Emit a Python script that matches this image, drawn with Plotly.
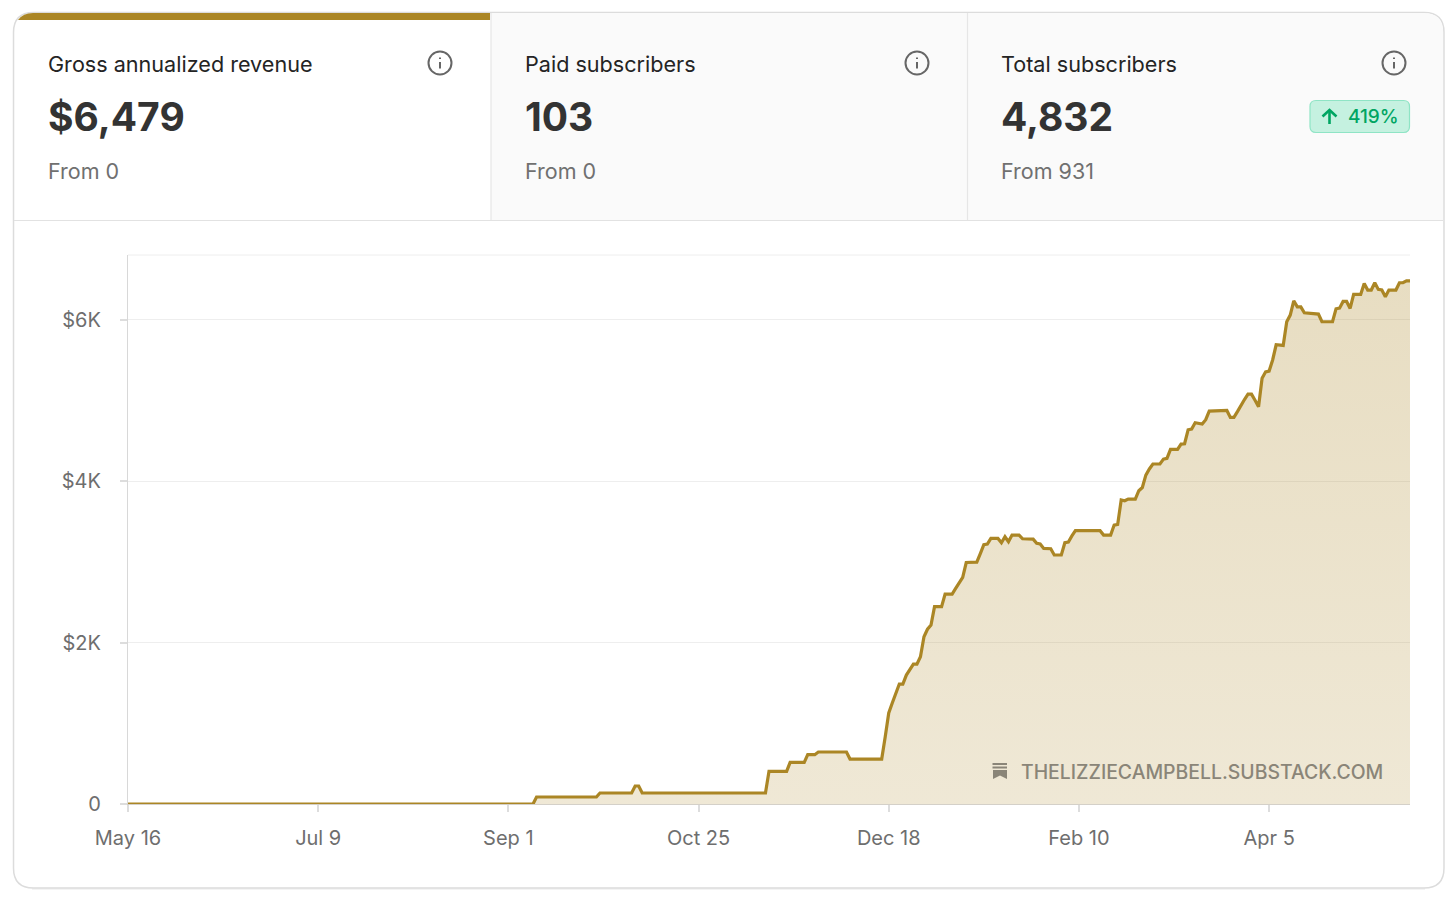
import pandas as pd
import plotly.graph_objects as go

# days since May 16
start_date = "2022-05-16"
end_day = 364
day_offsets = [
    0, 115, 116, 133, 134, 143, 144, 145, 146, 181, 182, 187, 188, 192, 193, 195, 196, 204, 205, 214,
    215, 216, 217, 218, 219, 220, 221, 223, 224, 225, 226, 227, 228, 229, 231, 232, 234, 235, 236, 237,
    238, 241, 242, 243, 244, 245, 247, 248, 249, 250, 251, 253, 254, 257, 258, 259, 260, 262, 263, 265,
    266, 267, 268, 269, 276, 277, 279, 280, 281, 282, 283, 284, 286, 287, 288, 289, 290, 291, 293, 294,
    295, 296, 298, 299, 300, 301, 302, 303, 305, 306, 307, 312, 313, 314, 315, 316, 317, 318, 319, 320,
    321, 322, 323, 324, 325, 326, 328, 329, 330, 331, 332, 333, 334, 338, 339, 342, 343, 344, 345, 346,
    347, 348, 350, 351, 352, 353, 354, 355, 356, 357, 358, 360, 361, 362, 363, 364,
]
revenue = [
    0, 0, 87, 87, 136, 136, 223, 223, 136, 136, 405, 405, 516, 516, 611, 611, 644, 644, 557, 557,
    833, 1127, 1250, 1370, 1486, 1486, 1597, 1732, 1732, 1824, 2072, 2165, 2217, 2444, 2444, 2600, 2600, 2670, 2740, 2807,
    2991, 2995, 3100, 3211, 3220, 3290, 3290, 3236, 3310, 3248, 3331, 3331, 3285, 3281, 3228, 3220, 3166, 3162, 3084, 3084,
    3236, 3245, 3320, 3385, 3385, 3331, 3331, 3455, 3463, 3765, 3756, 3777, 3777, 3880, 3920, 4074, 4150, 4211, 4211, 4272,
    4281, 4392, 4392, 4458, 4462, 4635, 4644, 4722, 4706, 4760, 4867, 4875, 4789, 4789, 4860, 4940, 5010, 5077, 5077, 5000,
    4920, 5272, 5353, 5362, 5500, 5688, 5680, 5973, 6056, 6233, 6158, 6158, 6084, 6068, 5973, 5973, 6134, 6142, 6225, 6225,
    6138, 6312, 6312, 6448, 6366, 6366, 6456, 6374, 6366, 6283, 6366, 6366, 6456, 6456, 6480, 6479,
]

x_tick_days = [0, 54, 108, 162, 216, 270, 324]
x_tick_labels = ["May 16", "Jul 9", "Sep 1", "Oct 25", "Dec 18", "Feb 10", "Apr 5"]
y_tick_values = [0, 2000, 4000, 6000]
y_tick_labels = ["0", "$2K", "$4K", "$6K"]
y_top = 6800

card_titles = ["Gross annualized revenue", "Paid subscribers", "Total subscribers"]
card_values = ["$6,479", "103", "4,832"]
card_froms = ["From 0", "From 0", "From 931"]
card_text_x = [47, 524, 1000]
card_icon_x = [440, 917, 1394]

FONT = "Inter"
GOLD = "#ab8625"
WIDTH, HEIGHT = 1456, 901
LEFT, RIGHT, TOP, BOTTOM = 128, 1410, 255, 804

base = pd.Timestamp(start_date)
dates = base + pd.to_timedelta(day_offsets, unit="D")
tick_dates = base + pd.to_timedelta(x_tick_days, unit="D")


# pixel position -> paper coordinates
def px(x):
    return (x - LEFT) / (RIGHT - LEFT)


def py(y):
    return (BOTTOM - y) / (BOTTOM - TOP)


def pt(x, y):
    return f"{px(x):.5f},{py(y):.5f}"


def round_rect(x0, y0, x1, y1, r):
    return (
        f"M{pt(x0 + r, y0)} L{pt(x1 - r, y0)} Q{pt(x1, y0)} {pt(x1, y0 + r)} "
        f"L{pt(x1, y1 - r)} Q{pt(x1, y1)} {pt(x1 - r, y1)} "
        f"L{pt(x0 + r, y1)} Q{pt(x0, y1)} {pt(x0, y1 - r)} "
        f"L{pt(x0, y0 + r)} Q{pt(x0, y0)} {pt(x0 + r, y0)} Z"
    )


def path_shape(path, fill=None, line=None, width=0, layer="below"):
    return dict(
        type="path", xref="paper", yref="paper", path=path, layer=layer,
        fillcolor=fill or "rgba(0,0,0,0)",
        line=dict(color=line or "rgba(0,0,0,0)", width=width),
    )


def seg(x0, y0, x1, y1, color, width, layer="below"):
    return dict(
        type="line", xref="paper", yref="paper", x0=px(x0), y0=py(y0), x1=px(x1), y1=py(y1),
        line=dict(color=color, width=width), layer=layer,
    )


def label(x, y, text, size, color, weight=400, anchor="left"):
    return dict(
        xref="paper", yref="paper", x=px(x), y=py(y), text=text, showarrow=False,
        xanchor=anchor, yanchor="middle", xshift=0, borderpad=0, align="left",
        font=dict(family=FONT, size=size, color=color, weight=weight),
    )


shapes = []
# soft shadow under the card, then the card
shapes.append(seg(32, 889, 1425, 889, "#f1f1f1", 1.5))
shapes.append(path_shape(round_rect(13.5, 12.5, 1444, 888, 20), fill="white", line="#dcdcdc", width=1.5))
# grey header panels
shapes.append(path_shape(
    f"M{pt(491, 13)} L{pt(1424, 13)} Q{pt(1443, 13)} {pt(1443, 32)} L{pt(1443, 220)} L{pt(491, 220)} Z",
    fill="#fafafa",
))
shapes.append(seg(14, 220.5, 1443, 220.5, "#e2e2e2", 1.2))
shapes.append(seg(491, 13, 491, 220, "#e6e6e6", 1.2))
shapes.append(seg(967.5, 13, 967.5, 220, "#e6e6e6", 1.2))
# gold bar on the selected card
shapes.append(path_shape(
    f"M{pt(33, 13)} L{pt(490, 13)} L{pt(490, 20)} L{pt(18, 20)} Q{pt(23, 13)} {pt(33, 13)} Z",
    fill=GOLD,
))
# info icons
for cx in card_icon_x:
    shapes.append(dict(
        type="circle", xref="paper", yref="paper", x0=px(cx - 11.5), x1=px(cx + 11.5),
        y0=py(63 + 11.5), y1=py(63 - 11.5), line=dict(color="#666666", width=2), layer="below",
    ))
    shapes.append(seg(cx, 62, cx, 68.5, "#666666", 2))
    shapes.append(seg(cx, 57.5, cx, 59, "#666666", 2))
# badge
shapes.append(path_shape(round_rect(1310, 100.5, 1409.5, 132.5, 6), fill="#c5f1e0", line="#8fe4c5", width=1.2))
shapes.append(seg(1329.5, 110, 1329.5, 124, "#00a562", 2.6))
shapes.append(path_shape(f"M{pt(1322.5, 116.5)} L{pt(1329.5, 110)} L{pt(1336.5, 116.5)}", line="#00a562", width=2.6))
# watermark icon
for wy in (764, 767.5):
    shapes.append(seg(992.5, wy, 1007, wy, "#8a8578", 2, layer="above"))
shapes.append(path_shape(
    f"M{pt(993, 770)} L{pt(1007, 770)} L{pt(1007, 779)} L{pt(1000, 775.5)} L{pt(993, 779)} Z",
    fill="#8a8578", layer="above",
))
# top frame line of the plot
shapes.append(seg(LEFT, TOP, RIGHT, TOP, "#eeeeee", 1))

annotations = []
for i in range(3):
    annotations.append(label(card_text_x[i], 64, card_titles[i], 21.6, "#242424", 400))
    annotations.append(label(card_text_x[i], 117, card_values[i], 39, "#333333", 700))
    annotations.append(label(card_text_x[i], 171, card_froms[i], 21.5, "#707070"))
annotations.append(label(1347, 117, "419%", 19, "#00a562", 500))
annotations.append(label(1020, 772, "THELIZZIECAMPBELL.SUBSTACK.COM", 19.4, "#8a8578", 500))

fig = go.Figure()
fig.add_trace(
    go.Scatter(
        x=dates,
        y=revenue,
        mode="lines",
        line=dict(color=GOLD, width=3.2),
        fill="tozeroy",
        fillgradient=dict(
            type="vertical",
            colorscale=[[0, "rgba(171,134,37,0.19)"], [1, "rgba(171,134,37,0.28)"]],
        ),
        showlegend=False,
        hoverinfo="skip",
    )
)

fig.update_layout(
    width=WIDTH,
    height=HEIGHT,
    margin=dict(l=LEFT, r=WIDTH - RIGHT, t=TOP, b=HEIGHT - BOTTOM, autoexpand=False),
    paper_bgcolor="white",
    plot_bgcolor="rgba(0,0,0,0)",
    font=dict(family=FONT, size=20, color="#6e6e6e"),
    shapes=shapes,
    annotations=annotations,
    xaxis=dict(
        range=[base, base + pd.Timedelta(days=end_day)],
        tickmode="array",
        tickvals=tick_dates,
        ticktext=x_tick_labels,
        ticks="outside",
        ticklen=7,
        tickwidth=1.5,
        tickcolor="#dddddd",
        showgrid=False,
        showline=True,
        linecolor="#d4d0c8",
        linewidth=1.2,
        zeroline=False,
        ticklabelstandoff=9,
        layer="below traces",
    ),
    yaxis=dict(
        range=[0, y_top],
        tickmode="array",
        tickvals=y_tick_values,
        ticktext=y_tick_labels,
        ticks="outside",
        ticklen=7,
        tickwidth=1.5,
        tickcolor="#dddddd",
        showgrid=True,
        gridcolor="#eeeeee",
        gridwidth=1,
        showline=True,
        linecolor="#d8d8d8",
        linewidth=1.2,
        zeroline=False,
        ticklabelstandoff=15,
        layer="below traces",
    ),
)

fig.write_html(
    "out.html",
    config=dict(displayModeBar=False),
    post_script="document.body.style.margin='0';document.body.style.overflow='hidden';",
)
